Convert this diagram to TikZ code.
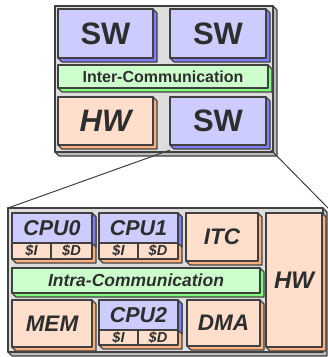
\documentclass[tikz,border=0pt]{standalone}
\usepackage{fontspec}
\setmainfont{Liberation Sans}
\definecolor{edge}{HTML}{404040}
\definecolor{txt}{HTML}{2E2E2E}
\definecolor{bluef}{HTML}{CCCCFF}
\definecolor{blues}{HTML}{7F7FFF}
\definecolor{peachf}{HTML}{FFDFCC}
\definecolor{peachs}{HTML}{FFB080}
\definecolor{greenf}{HTML}{CCFFCC}
\definecolor{greens}{HTML}{80FF80}
\definecolor{grayf}{HTML}{DDDDDD}
\definecolor{grays}{HTML}{BBBBBB}
\tikzset{
  face/.style={draw=edge, line width=1.1pt, inner sep=0pt, outer sep=0pt, anchor=north west, text=txt, line join=round},
  side/.style={draw=edge, line width=1.1pt, line join=round},
}
% name, x1, y1, x2, y2, front, side, font+text
\newcommand{\blk}[8]{%
  \filldraw[side, fill=#7] (#2,#3) -- (#4,#3) -- (#4+4,#3+4) -- (#4+4,#5+4) -- (#2+4,#5+4) -- (#2,#5) -- cycle;
  \node[face, fill=#6, minimum width={#4pt-#2pt}, minimum height={#5pt-#3pt}] (#1) at (#2,#3) {#8};
}
% name, x1, y1, x2, ym, y2, xdiv, label
\newcommand{\cpublk}[8]{%
  \filldraw[side, fill=peachs] (#2,#3) -- (#4,#3) -- (#4+4,#3+4) -- (#4+4,#6+4) -- (#2+4,#6+4) -- (#2,#6) -- cycle;
  \filldraw[side, fill=blues] (#4,#3) -- (#4+4,#3+4) -- (#4+4,#5+4) -- (#4,#5) -- cycle;
  \node[face, fill=bluef, minimum width={#4pt-#2pt}, minimum height={#5pt-#3pt}, font=\fontsize{21.5}{21.5}\selectfont\bfseries\itshape] (#1) at (#2,#3) {#8};
  \node[face, fill=peachf, minimum width={#7pt-#2pt}, minimum height={#6pt-#5pt}, font=\fontsize{14.5}{14.5}\selectfont\bfseries\itshape] (#1i) at (#2,#5) {\$I};
  \node[face, fill=peachf, minimum width={#4pt-#7pt}, minimum height={#6pt-#5pt}, font=\fontsize{14.5}{14.5}\selectfont\bfseries\itshape] (#1d) at (#7,#5) {\$D};
}
\begin{document}
\begin{tikzpicture}[x=1pt, y=-1pt]
\useasboundingbox (0,0) rectangle (328,357);
% top system
\blk{top}{55}{6}{273}{152}{grayf}{grays}{}
\blk{swa}{58}{9}{153}{58}{bluef}{blues}{\fontsize{31}{31}\selectfont\bfseries SW}
\blk{swb}{170}{9}{266}{58}{bluef}{blues}{\fontsize{31}{31}\selectfont\bfseries SW}
\blk{inter}{58}{65}{268}{88}{greenf}{greens}{\fontsize{16}{16}\selectfont\bfseries Inter-Communication}
\blk{hwa}{58}{97}{153}{145}{peachf}{peachs}{\fontsize{31}{31}\selectfont\bfseries\itshape HW}
\blk{swc}{170}{97}{266}{145}{bluef}{blues}{\fontsize{31}{31}\selectfont\bfseries SW}
% lower system
\blk{low}{8}{208}{323}{352}{grayf}{grays}{}
\cpublk{cpu0}{12}{213}{92}{243}{259}{51}{CPU0}
\cpublk{cpu1}{99}{213}{178}{243}{259}{138}{CPU1}
\blk{itc}{186}{213}{258}{261}{peachf}{peachs}{\fontsize{22.5}{22.5}\selectfont\bfseries\itshape ITC}
\blk{intra}{12}{268}{260}{293}{greenf}{greens}{\fontsize{17.5}{17.5}\selectfont\bfseries\itshape Intra-Communication}
\blk{mem}{12}{300}{92}{347}{peachf}{peachs}{\fontsize{22.5}{22.5}\selectfont\bfseries\itshape MEM}
\cpublk{cpu2}{99}{300}{178}{330}{345}{138}{CPU2}
\blk{dma}{187}{300}{260}{346}{peachf}{peachs}{\fontsize{22.5}{22.5}\selectfont\bfseries\itshape DMA}
\blk{hwb}{266}{213}{322}{347}{peachf}{peachs}{\fontsize{24}{24}\selectfont\bfseries\itshape HW}
% zoom lines
\draw[edge, line width=1pt] ([shift={(0,5)}]swc.south west) -- (low.north west);
\draw[edge, line width=1pt] ([shift={(5,5)}]swc.south east) -- ([xshift=5pt]low.north east);
\end{tikzpicture}
\end{document}
